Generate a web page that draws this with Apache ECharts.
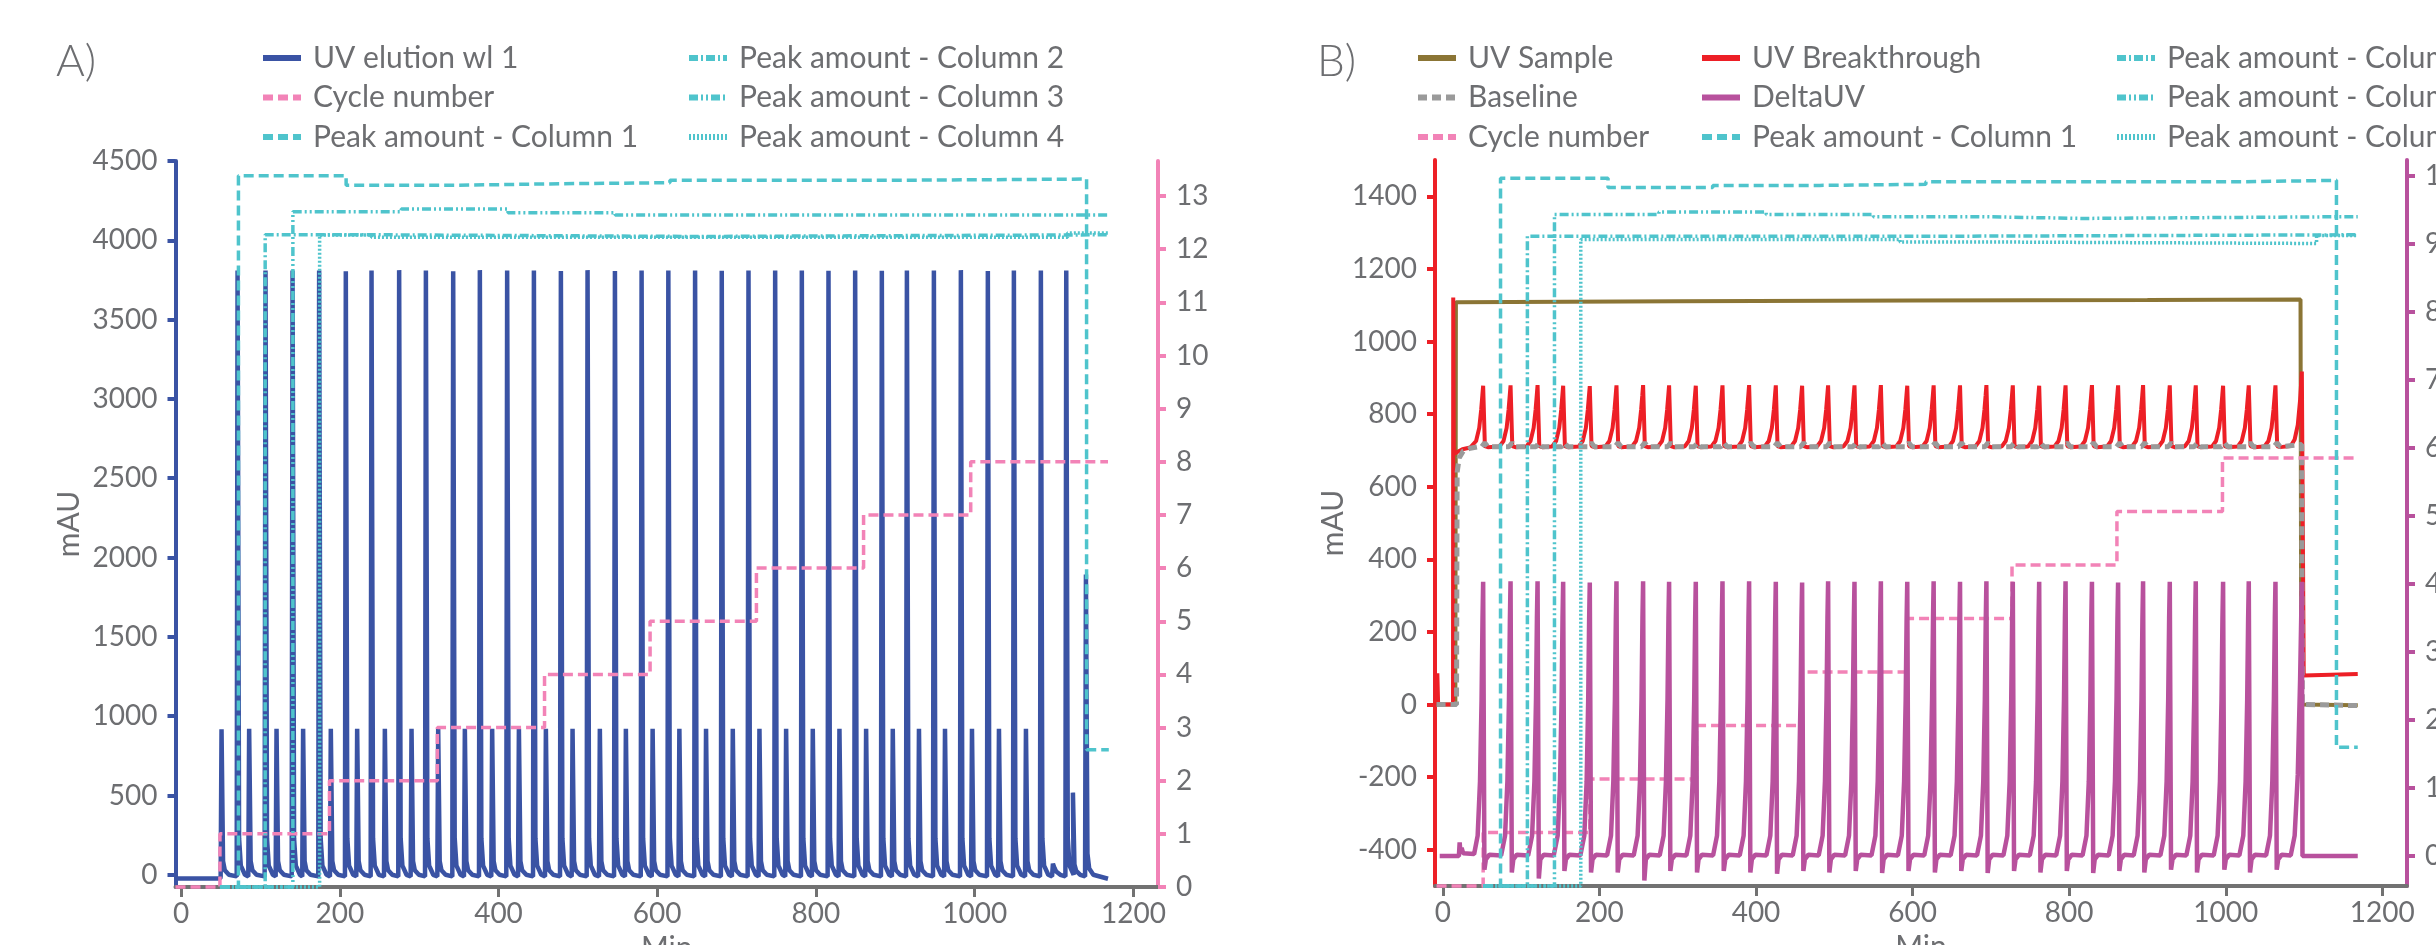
<!DOCTYPE html>
<html><head><meta charset="utf-8">
<script src="https://cdn.jsdelivr.net/npm/echarts@6/dist/echarts.min.js"></script>
<style>html,body{margin:0;padding:0;background:#fff}#c{width:2436px;height:945px}</style>
</head><body><div id="c"></div>
<script>
// ================= DATA =================
const X_TICKS = [0, 200, 400, 600, 800, 1000, 1200];
const A_Y_TICKS = [0, 500, 1000, 1500, 2000, 2500, 3000, 3500, 4000, 4500];
const A_Y2_TICKS = [0, 1, 2, 3, 4, 5, 6, 7, 8, 9, 10, 11, 12, 13];
const B_Y_TICKS = [-400, -200, 0, 200, 400, 600, 800, 1000, 1200, 1400];
const B_Y2_TICKS = [0, 1, 2, 3, 4, 5, 6, 7, 8, 9, 10];

// Panel A: UV elution peaks (time in min, height in mAU)
const A_TALL_T = [71.5, 106.7, 140.8, 174.3, 207.9, 240.3, 275.1, 308.8, 343.2, 376.8, 411.2, 444.9, 478.9, 512.5, 547.0, 580.6, 614.3, 648.0, 681.6, 715.3, 748.9, 782.5, 816.1, 849.7, 883.3, 914.9, 948.9, 982.9, 1016.9, 1049.7, 1083.7, 1115.7];
const A_TALL_H = [3810, 3810, 3810, 3810, 3805, 3810, 3812, 3810, 3805, 3812, 3810, 3810, 3806, 3812, 3806, 3810, 3810, 3810, 3808, 3810, 3810, 3810, 3808, 3810, 3808, 3810, 3810, 3812, 3806, 3810, 3810, 3810];
const A_SMALL_T = [51.3, 86.1, 120.6, 154.1, 189.0, 222.2, 257.1, 290.7, 324.3, 357.9, 392.3, 426.0, 460.0, 493.6, 528.0, 560.8, 594.5, 628.2, 661.8, 695.5, 729.1, 762.7, 796.3, 829.9, 863.5, 897.1, 930.1, 962.9, 996.9, 1030.9, 1064.9];
const A_SMALL_H = [918, 920, 920, 920, 920, 920, 920, 920, 920, 920, 920, 920, 920, 920, 920, 920, 920, 920, 920, 920, 920, 920, 920, 920, 920, 920, 920, 920, 920, 920, 920];
const A_LATE_T = [1098.9, 1124.1, 1140.5];
const A_LATE_H = [70, 518, 1893];
const A_UV_START = [[-6, -23], [49.5, -23]];
const A_UV_END = [[1168, -25]];

// Panel A: cycle number (step), peak amounts (step)
const A_CYCLE_X = [-7, 49, 187, 323, 458, 591, 725, 860, 995, 1168];
const A_CYCLE_Y = [0, 1, 2, 3, 4, 5, 6, 7, 8, 8];
const A_COL1 = [[49, -77], [72.3, 4407], [208, 4347], [347, 4357], [481, 4363], [616, 4378], [886, 4386], [1141, 789], [1169, 789]];
const A_COL2 = [[49, -77], [106, 4035], [240, 4024], [650, 4035], [1169, 4035]];
const A_COL3 = [[49, -77], [140.9, 4180], [277.5, 4197], [412, 4174], [547, 4160], [1169, 4160]];
const A_COL4 = [[49, -77], [174.6, 4033], [240, 4020], [1117, 4046], [1169, 4046]];

// Panel B: UV sample, baseline
const B_SAMPLE = [[-8, 0], [16, 0], [16.7, 1108], [300, 1111], [600, 1113], [900, 1114], [1095.5, 1116], [1096.5, 0], [1168.6, -2]];
const B_BASE_START = [[-8, 0], [17.5, 0], [18.3, 640], [21, 680], [26, 698], [35, 706], [45, 710]];
const B_BASE_END = [[1097, 716], [1097.8, 0], [1168.6, -3]];
// Panel B: breakthrough peaks (same times used for DeltaUV)
const B_PEAK_T = [51.5, 86.5, 121.0, 153.7, 187.7, 221.8, 255.8, 289.0, 323.1, 357.2, 391.2, 425.3, 458.9, 492.1, 525.8, 559.5, 593.2, 626.9, 660.6, 694.3, 728.0, 761.7, 795.4, 829.1, 862.5, 894.4, 928.5, 961.7, 996.6, 1029.4, 1063.5];
const B_BT_H = [878, 879, 880, 878, 877, 879, 880, 879, 878, 879, 880, 879, 878, 879, 879, 880, 878, 879, 879, 880, 879, 878, 879, 880, 879, 880, 879, 879, 878, 879, 879];
const B_BT_START = [[-8, 0], [-7, 86], [-6, 0], [13.0, 0], [13.3, 1121], [14.0, 690], [18, 695], [25, 703], [35, 708]];
const B_BT_END = [[1083, 712], [1088, 730], [1092, 770], [1095, 840], [1097.2, 917], [1099.6, 80], [1168.6, 84]];
const B_DUV_H = [4.03, 4.04, 4.04, 4.03, 4.02, 4.04, 4.04, 4.03, 4.03, 4.04, 4.04, 4.03, 4.02, 4.04, 4.03, 4.04, 4.03, 4.04, 4.03, 4.04, 4.03, 4.03, 4.04, 4.03, 4.02, 4.04, 4.03, 4.04, 4.03, 4.04, 4.03];
const B_DUV_DIP = [-0.2, -0.24, -0.33, -0.22, -0.24, -0.24, -0.36, -0.22, -0.24, -0.22, -0.24, -0.26, -0.22, -0.24, -0.22, -0.25, -0.22, -0.24, -0.22, -0.25, -0.22, -0.24, -0.22, -0.25, -0.22, -0.24, -0.2, -0.24, -0.2, -0.24, -0.2];
const B_DUV_START = [[-4, 0], [20.5, 0], [21.5, 0.2], [22.5, 0.05], [24, 0.12], [26, 0.04], [40, 0.03]];
const B_DUV_END = [[1083, 0.01], [1088, 0.3], [1092, 1.2], [1095, 2.6], [1097.2, 4.03], [1098, 0], [1168.6, 0]];
// Panel B: cycle number (step), peak amounts (step)
const B_CYCLE_X = [-8, 51.5, 187.7, 324, 459, 593, 727, 861, 995.8, 1168.6];
const B_CYCLE_Y = [0, 1, 2, 3, 4, 5, 6, 7, 8, 8];
const B_COL1 = [[51.5, -500], [73.7, 1450], [211, 1424], [344.8, 1430], [481.5, 1433], [617, 1440], [1023, 1444], [1141.4, -118], [1168.6, -118]];
const B_COL2 = [[51.5, -500], [108, 1290], [650, 1294], [1168.6, 1292]];
const B_COL3 = [[51.5, -500], [142.6, 1350], [276, 1357], [413, 1350], [550, 1344], [684, 1339], [818, 1344], [1168.6, 1344]];
const B_COL4 = [[51.5, -500], [176.2, 1281], [584, 1274], [715, 1270], [1116, 1292], [1168.6, 1292]];

// ================= BUILD =================
function uvElution() {
  const ev = [];
  A_TALL_T.forEach((t, i) => ev.push([t, A_TALL_H[i]]));
  A_SMALL_T.forEach((t, i) => ev.push([t, A_SMALL_H[i]]));
  A_LATE_T.forEach((t, i) => ev.push([t, A_LATE_H[i]]));
  ev.sort((a, b) => a[0] - b[0]);
  const d = A_UV_START.slice();
  ev.forEach(([t, h]) => {
    d.push([t - 1.4, -10], [t - 0.3, h], [t + 0.4, h], [t + 1.6, Math.min(h, 40 + 0.05 * h)], [t + 3.8, Math.min(h, 20 + 0.01 * h)], [t + 9, 0]);
  });
  return d.concat(A_UV_END);
}
function breakthrough() {
  const d = B_BT_START.slice();
  B_PEAK_T.forEach((p, i) => {
    const h = B_BT_H[i];
    d.push([p - 14, 711], [p - 9, 726], [p - 5, 762], [p - 2.5, 812], [p - 1, 852], [p, h], [p + 2.2, 712], [p + 6, 709]);
  });
  return d.concat(B_BT_END);
}
function baseline() {
  const d = B_BASE_START.slice();
  B_PEAK_T.forEach(p => { d.push([p - 2, 710], [p + 2, 721], [p + 6, 710]); });
  return d.concat(B_BASE_END);
}
function deltaUV() {
  const d = B_DUV_START.slice();
  B_PEAK_T.forEach((p, i) => {
    d.push([p - 12, 0.01], [p - 7, 0.3], [p - 4, 1.1], [p - 2, 2.3], [p - 0.8, 3.5], [p, B_DUV_H[i]], [p + 1.6, B_DUV_DIP[i]], [p + 3.5, -0.05], [p + 8, 0.02]);
  });
  return d.concat(B_DUV_END);
}
const zip = (xs, ys) => xs.map((x, i) => [x, ys[i]]);

// ================= STYLE =================
const TXT = '#6d6e71', FONT = 'Lato, "Open Sans", sans-serif';
const BLUE = '#3a53a4', PINK = '#f283b7', TEAL = '#4fc4cc', OLIVE = '#8b7535', RED = '#ed1f26', PURPLE = '#b8519d', GREY = '#9a9a9a', AXG = '#727272';
const DASH = [10, 5], DASHDOT = [9, 3, 2, 3], DASHDOTDOT = [9, 3, 2, 3, 2, 3], DOT = [2, 2];
const plain = v => String(v);

function xAx(grid, min, max) {
  return {
    type: 'value', gridIndex: grid, min, max, name: 'Min', nameLocation: 'middle', nameGap: 45,
    nameTextStyle: { fontSize: 30, color: TXT, fontFamily: FONT },
    axisLine: { show: true, onZero: false, lineStyle: { color: AXG, width: 4 } },
    axisTick: { show: true, length: 10, lineStyle: { color: AXG, width: 3 }, customValues: X_TICKS },
    axisLabel: { fontSize: 28, color: TXT, fontFamily: FONT, margin: 13, customValues: X_TICKS, formatter: plain },
    splitLine: { show: false }
  };
}
function yAx(grid, pos, min, max, color, ticks, extra) {
  return Object.assign({
    type: 'value', gridIndex: grid, position: pos, min, max,
    axisLine: { show: true, onZero: false, lineStyle: { color, width: 4 } },
    axisTick: { show: true, length: 8, lineStyle: { color, width: 4 }, customValues: ticks },
    axisLabel: { fontSize: 28, color: TXT, fontFamily: FONT, margin: 18, customValues: ticks, formatter: plain },
    splitLine: { show: false }
  }, extra || {});
}
function line(name, xi, yi, data, color, width, type, extra) {
  return Object.assign({
    name, type: 'line', xAxisIndex: xi, yAxisIndex: yi, data, symbol: 'none', showSymbol: false,
    clip: false, animation: false, silent: true,
    lineStyle: { color, width, type: type || 'solid' }, itemStyle: { color }
  }, extra || {});
}
function legendCol(left, names) {
  return {
    left, top: 43, orient: 'vertical', padding: 0, itemGap: 9.5, itemWidth: 38, itemHeight: 14,
    selectedMode: false, data: names,
    lineStyle: { width: 6 },
    itemStyle: { opacity: 0 },
    textStyle: { fontSize: 30, color: TXT, fontFamily: FONT, lineHeight: 30, padding: [0, 0, 0, 7] }
  };
}

const option = {
  backgroundColor: '#ffffff',
  animation: false,
  textStyle: { fontFamily: FONT },
  grid: [
    { left: 175.5, top: 161, width: 982.5, height: 726, outerBoundsMode: 'none', containLabel: false },
    { left: 1435, top: 160, width: 972, height: 726, outerBoundsMode: 'none', containLabel: false }
  ],
  graphic: [
    { type: 'text', left: 56, top: 40, style: { text: 'A)', font: '300 44px Lato, sans-serif', fill: TXT } },
    { type: 'text', left: 1317, top: 40, style: { text: 'B)', font: '300 44px Lato, sans-serif', fill: TXT } }
  ],
  legend: [
    legendCol(260, ['UV elution wl 1', 'Cycle number', 'Peak amount - Column 1']),
    legendCol(686, ['Peak amount - Column 2', 'Peak amount - Column 3', 'Peak amount - Column 4']),
    legendCol(1415, ['UV Sample', 'Baseline', 'Cycle number']),
    legendCol(1699, ['UV Breakthrough', 'DeltaUV', 'Peak amount - Column 1']),
    legendCol(2114, ['Peak amount - Column 2', 'Peak amount - Column 3', 'Peak amount - Column 4'])
  ],
  xAxis: [xAx(0, -7, 1231), xAx(1, -10, 1231.5)],
  yAxis: [
    yAx(0, 'left', -77, 4500, BLUE, A_Y_TICKS, { name: 'mAU', nameLocation: 'middle', nameGap: 91, nameTextStyle: { fontSize: 30, color: TXT, fontFamily: FONT } }),
    yAx(0, 'right', 0, 13.66, PINK, A_Y2_TICKS),
    yAx(1, 'left', -500, 1500, RED, B_Y_TICKS, { name: 'mAU', nameLocation: 'middle', nameGap: 81, nameTextStyle: { fontSize: 30, color: TXT, fontFamily: FONT } }),
    yAx(1, 'right', -0.44, 10.23, PURPLE, B_Y2_TICKS),
    { type: 'value', gridIndex: 1, min: 0, max: 13.57, show: false, splitLine: { show: false } }
  ],
  series: [
    // Panel A
    line('UV elution wl 1', 0, 0, uvElution(), BLUE, 4.5),
    line('Cycle number', 0, 1, zip(A_CYCLE_X, A_CYCLE_Y), PINK, 3.5, DASH, { step: 'end' }),
    line('Peak amount - Column 1', 0, 0, A_COL1, TEAL, 3.5, DASH, { step: 'end' }),
    line('Peak amount - Column 2', 0, 0, A_COL2, TEAL, 3.5, DASHDOT, { step: 'end' }),
    line('Peak amount - Column 3', 0, 0, A_COL3, TEAL, 3.5, DASHDOTDOT, { step: 'end' }),
    line('Peak amount - Column 4', 0, 0, A_COL4, TEAL, 3.5, DOT, { step: 'end' }),
    // Panel B
    line('UV Sample', 1, 2, B_SAMPLE, OLIVE, 4),
    line('UV Breakthrough', 1, 2, breakthrough(), RED, 4),
    line('Baseline', 1, 2, baseline(), GREY, 5, [9, 5]),
    line('Cycle number', 1, 4, zip(B_CYCLE_X, B_CYCLE_Y), PINK, 3.5, DASH, { step: 'end' }),
    line('DeltaUV', 1, 3, deltaUV(), PURPLE, 4.5),
    line('Peak amount - Column 1', 1, 2, B_COL1, TEAL, 3.5, DASH, { step: 'end' }),
    line('Peak amount - Column 2', 1, 2, B_COL2, TEAL, 3.5, DASHDOT, { step: 'end' }),
    line('Peak amount - Column 3', 1, 2, B_COL3, TEAL, 3.5, DASHDOTDOT, { step: 'end' }),
    line('Peak amount - Column 4', 1, 2, B_COL4, TEAL, 3.5, DOT, { step: 'end' })
  ]
};
const chart = echarts.init(document.getElementById('c'), null, { renderer: 'canvas' });
chart.setOption(option);
</script></body></html>
